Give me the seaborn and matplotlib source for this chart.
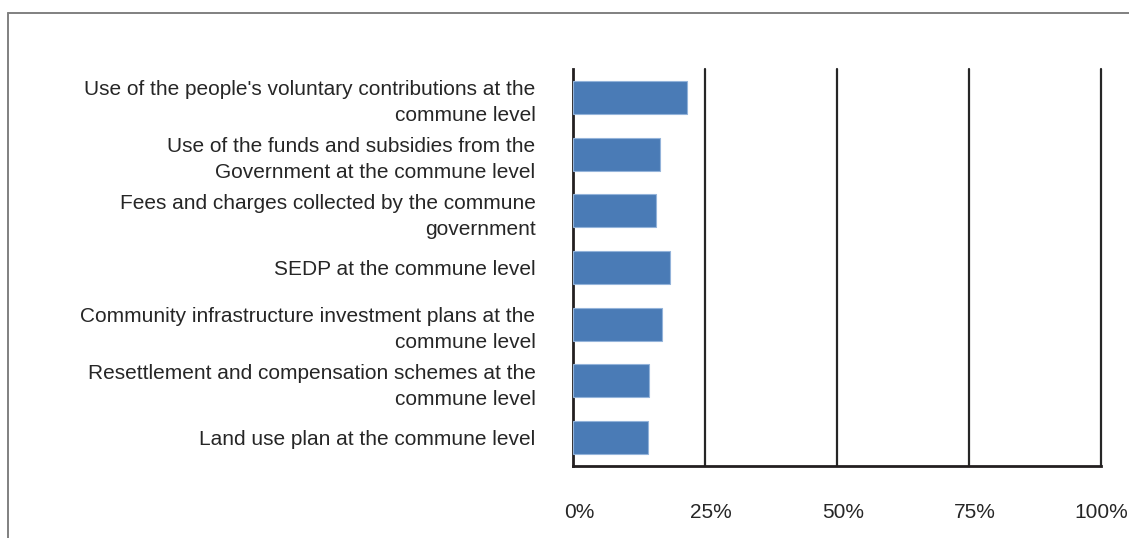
import matplotlib
matplotlib.use("Agg")
import matplotlib.pyplot as plt
import matplotlib.transforms as mtransforms
import seaborn as sns
import pandas as pd
from matplotlib.lines import Line2D
from matplotlib.ticker import PercentFormatter

categories = [
    "Use of the people's voluntary contributions at the\ncommune level",
    "Use of the funds and subsidies from the\nGovernment at the commune level",
    "Fees and charges collected by the commune\ngovernment",
    "SEDP at the commune level",
    "Community infrastructure investment plans at the\ncommune level",
    "Resettlement and compensation schemes at the\ncommune level",
    "Land use plan at the commune level",
]
shares = [21.5, 16.4, 15.7, 18.4, 16.9, 14.4, 14.2]
xticks = [0, 25, 50, 75, 100]

df = pd.DataFrame({"category": categories, "share": shares})

sns.set_style("white")
plt.rcParams["font.family"] = ["Liberation Sans", "DejaVu Sans"]

fig = plt.figure(figsize=(11.29, 5.38), dpi=100)
ax = fig.add_axes([573 / 1129, 1 - 466 / 538, 528 / 1129, 397 / 538])

sns.barplot(data=df, x="share", y="category", orient="h", color="#4a7bb6",
            saturation=1, width=0.58, edgecolor="#93b3da", linewidth=0.8,
            ax=ax, zorder=3)

ax.set_xlim(0, 100)
ax.set_xticks(xticks)
ax.xaxis.set_major_formatter(PercentFormatter(decimals=0))
for x in xticks[1:]:
    ax.axvline(x, color="#262626", lw=1.6, zorder=1, clip_on=False)

ax.set_xlabel("")
ax.set_ylabel("")
for side in ["top", "right"]:
    ax.spines[side].set_visible(False)
for side in ["left", "bottom"]:
    ax.spines[side].set_color("#231f20")
    ax.spines[side].set_linewidth(2)

ax.tick_params(axis="x", length=0, pad=27, labelsize=15, labelcolor="#262626")
ax.tick_params(axis="y", length=0, pad=27, labelsize=15, labelcolor="#262626")
# tick labels sit a little right of their gridlines in the original
xlabels = ax.get_xticklabels()
for i, lbl in enumerate(xlabels):
    dx = 0.06 if i < len(xlabels) - 1 else 0.0
    shift = mtransforms.ScaledTranslation(dx, 0, fig.dpi_scale_trans)
    lbl.set_transform(lbl.get_transform() + shift)
for lbl in ax.get_yticklabels():
    lbl.set_linespacing(1.45)
    lbl.set_horizontalalignment("right")
    lbl.set_multialignment("right")

# outer frame (top and left only visible)
fig.add_artist(Line2D([8 / 1129, 1], [1 - 12.5 / 538, 1 - 12.5 / 538],
                      transform=fig.transFigure, color="#808080", lw=1.4))
fig.add_artist(Line2D([8 / 1129, 8 / 1129], [0, 1 - 12.5 / 538],
                      transform=fig.transFigure, color="#808080", lw=1.4))

fig.savefig("out.png", dpi=100)
